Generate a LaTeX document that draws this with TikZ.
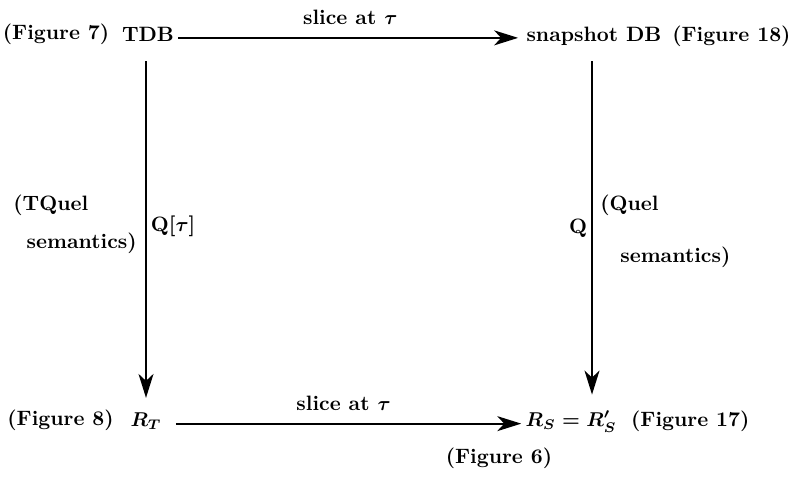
\documentclass[tikz,border=0pt]{standalone}
\usepackage{amsmath,amssymb}
\usepackage{tikz}
\usetikzlibrary{arrows.meta, positioning, calc}

\begin{document}
\begin{tikzpicture}[
  x=0.5pt, y=-0.5pt,
  lbl/.style={font=\fontsize{10.4}{12}\selectfont\bfseries\boldmath, inner sep=2pt},
  arr/.style={-{Stealth[length=12pt, width=7.5pt, inset=3.5pt]}, line width=0.9pt}
]
  \useasboundingbox (0,0) rectangle (791,477);

  \node[lbl, anchor=base] (tdb)  at (148,41)  {TDB};
  \node[lbl, anchor=base] (snap) at (594,41)  {snapshot DB};
  \node[lbl, anchor=base] (rt)   at (146,426) {$R_T$};
  \node[lbl, anchor=base] (rs)   at (571,426) {$R_S = R'_S$};

  \node[lbl, left=2pt of tdb]  (fig7)  {(Figure 7)};
  \node[lbl, right=1pt of snap] (fig18) {(Figure 18)};
  \node[lbl, left=4pt of rt]   (fig8)  {(Figure 8)};
  \node[lbl, right=3pt of rs]  (fig17) {(Figure 17)};
  \node[lbl] (fig6) at (499,458) {(Figure 6)};

  \node[lbl, anchor=west] (tquel) at (9,205)   {(TQuel};
  \node[lbl, anchor=east] (tsem)  at (141,243) {semantics)};
  \node[lbl, anchor=west] (quel)  at (596,205) {(Quel};
  \node[lbl, anchor=west] (qsem)  at (616,257) {semantics)};

  \draw[arr, shorten >=2pt] ([yshift=-2pt]tdb.east) -- ([yshift=-2pt]tdb.east -| snap.west)
    node[lbl, midway, above=4pt] {slice at $\tau$};
  \draw[arr, shorten <=5pt] ([yshift=-1.5pt]rt.east) -- ([yshift=-1.5pt]rt.east -| rs.west)
    node[lbl, midway, above=4pt] {slice at $\tau$};
  \draw[arr, shorten <=8pt, shorten >=5pt] (tdb.south -| rt.north) -- (rt.north)
    node[lbl, midway, right] {Q[$\tau$]};
  \draw[arr, shorten <=6pt, shorten >=6pt] ([xshift=-1pt]snap.south) -- ([xshift=-1pt]snap.south |- rs.north)
    node[lbl, midway, left] {Q};
\end{tikzpicture}
\end{document}
